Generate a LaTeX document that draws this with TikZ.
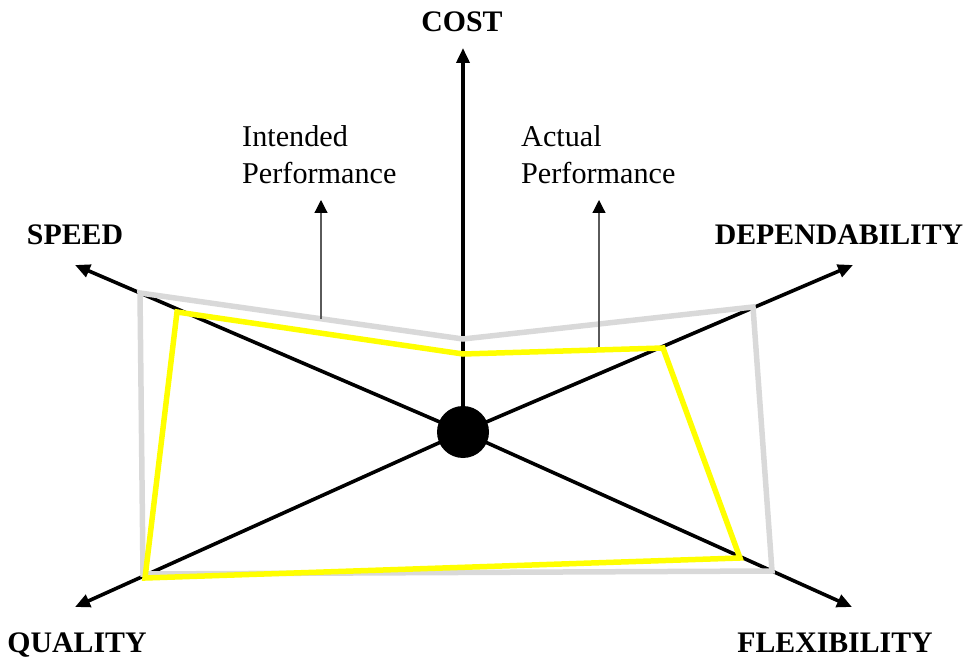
\documentclass[tikz,border=0pt]{standalone}
\usepackage{fontspec}
\setmainfont{Liberation Serif}
\usetikzlibrary{arrows.meta}

\definecolor{intendedgray}{HTML}{D9D9D9}
\definecolor{actualyellow}{HTML}{FFFF00}
\definecolor{notegray}{HTML}{5A5A5A}

\tikzset{
  axis/.style={line width=3.6pt, black, -{Triangle[length=15pt,width=13pt]}},
  axislabel/.style={font=\fontsize{29.8}{35}\selectfont\bfseries, inner sep=0pt, anchor=base},
  intendedline/.style={line width=5.5pt, intendedgray, line join=miter},
  actualline/.style={line width=5.5pt, actualyellow, line join=miter},
  notearrow/.style={line width=1.2pt, notegray, -{Triangle[length=13pt,width=13pt,color=black]}},
  notetext/.style={font=\fontsize{30.2}{37}\selectfont, align=left, inner sep=0pt, anchor=north west},
}

\begin{document}
\begin{tikzpicture}[x=1pt, y=-1pt]
  \useasboundingbox (0,0) rectangle (964,660);

  % hub and axis ends
  \coordinate (hub) at (463,432);
  \coordinate (costend) at (463,48);
  \coordinate (speedend) at (75,265);
  \coordinate (depend) at (853,265);
  \coordinate (qualend) at (75,607);
  \coordinate (flexend) at (852,607);

  % axis labels
  \node[axislabel] (cost) at (462,32) {COST};
  \node[axislabel] (speed) at (75,245) {SPEED};
  \node[axislabel] (dependability) at (839,245) {DEPENDABILITY};
  \node[axislabel] (quality) at (77,652) {QUALITY};
  \node[axislabel] (flexibility) at (835,652) {FLEXIBILITY};

  % axes
  \draw[axis] (hub) -- (costend);
  \draw[axis] (hub) -- (speedend);
  \draw[axis] (hub) -- (depend);
  \draw[axis] (hub) -- (qualend);
  \draw[axis] (hub) -- (flexend);

  % intended performance profile
  \coordinate (i1) at (140,293);
  \coordinate (i2) at (463,339);
  \coordinate (i3) at (753,307);
  \coordinate (i4) at (772,571);
  \coordinate (i5) at (143,574);
  \draw[intendedline] (i1) -- (i2) -- (i3) -- (i4) -- (i5) -- cycle;

  % actual performance profile
  \coordinate (a1) at (177,312);
  \coordinate (a2) at (463,354);
  \coordinate (a3) at (663,348);
  \coordinate (a4) at (740,558);
  \coordinate (a5) at (145,578);
  \draw[actualline] (a1) -- (a2) -- (a3) -- (a4) -- (a5) -- cycle;

  % centre disc
  \fill[black] (hub) circle[radius=26];

  % annotations
  \node[notetext] (intended) at (242,125) {Intended\\Performance};
  \node[notetext] (actual) at (521,125) {Actual\\Performance};
  \coordinate (intendedfoot) at (321,319);
  \coordinate (intendedtip) at (321,200);
  \coordinate (actualfoot) at (599,347);
  \coordinate (actualtip) at (599,200);
  \draw[notearrow] (intendedfoot) -- (intendedtip);
  \draw[notearrow] (actualfoot) -- (actualtip);
\end{tikzpicture}
\end{document}
